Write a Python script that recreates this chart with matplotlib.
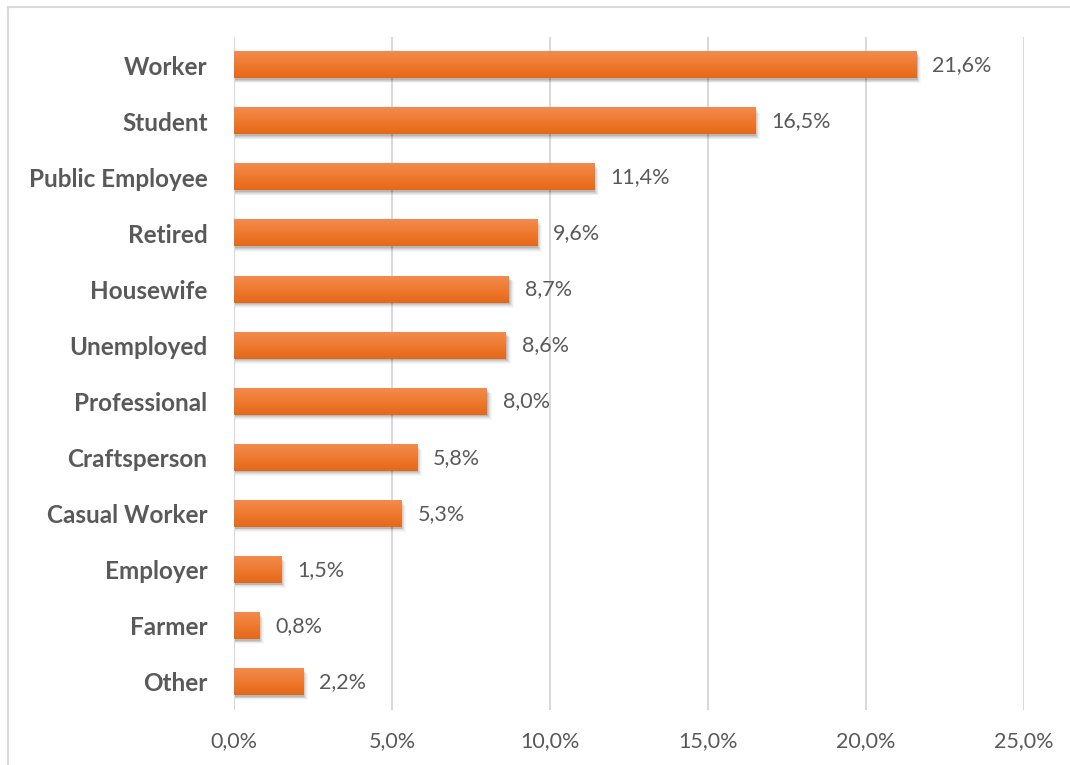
import matplotlib
matplotlib.use("Agg")
import matplotlib.pyplot as plt
import numpy as np
from matplotlib.patches import Rectangle
from matplotlib.colors import LinearSegmentedColormap
from matplotlib.lines import Line2D

categories = ["Worker", "Student", "Public Employee", "Retired", "Housewife",
              "Unemployed", "Professional", "Craftsperson", "Casual Worker",
              "Employer", "Farmer", "Other"]
values = [21.6, 16.5, 11.4, 9.6, 8.7, 8.6, 8.0, 5.8, 5.3, 1.5, 0.8, 2.2]
x_ticks = [0, 5, 10, 15, 20, 25]

plt.rcParams["font.family"] = ["Lato", "DejaVu Sans"]
text_color = "#595959"

fig = plt.figure(figsize=(10.7, 7.65), dpi=100)
ax = fig.add_axes([0.2187, 0.0719, 0.7383, 0.8797])

n = len(categories)
ypos = np.arange(n)
bar_h = 0.47

grad = LinearSegmentedColormap.from_list("bar", ["#F38B4E", "#EE7A2F", "#E56818"])
gimg = np.linspace(0, 1, 64).reshape(-1, 1)

for y, v in zip(ypos, values):
    # soft drop shadow below/right of each bar
    for k, a in zip(range(5), [0.10, 0.08, 0.06, 0.04, 0.03]):
        off_x = 0.03 + 0.03 * k
        off_y = 0.03 + 0.015 * k
        ax.add_patch(Rectangle((0.02, y - bar_h / 2 + off_y), v + off_x - 0.02, bar_h,
                               facecolor="#000000", alpha=a, edgecolor="none", zorder=2))
    ax.imshow(gimg, cmap=grad, aspect="auto",
              extent=(0, v, y + bar_h / 2, y - bar_h / 2), zorder=3, interpolation="bilinear")
    ax.text(v + 0.5, y, f"{v:.1f}%".replace(".", ","), va="center", ha="left",
            fontsize=15.5, color=text_color)

ax.set_xlim(0, 25)
ax.set_ylim(n - 0.5, -0.5)

ax.set_yticks(ypos)
ax.set_yticklabels(categories, fontsize=17.5, fontweight="bold", color=text_color)
ax.set_xticks(x_ticks)
ax.set_xticklabels([f"{t:.1f}%".replace(".", ",") for t in x_ticks], fontsize=15.5,
                   color=text_color)
ax.tick_params(axis="both", length=0)
ax.tick_params(axis="y", pad=19)
ax.tick_params(axis="x", pad=15)

ax.grid(axis="x", color="#D9D9D9", linewidth=1.5, zorder=0)
ax.set_axisbelow(True)
for s in ax.spines.values():
    s.set_visible(False)

# outer chart border (top and left edges)
fig.add_artist(Line2D([8 / 1070, 1.0], [1 - 7 / 765, 1 - 7 / 765], transform=fig.transFigure,
                      color="#D9D9D9", linewidth=1.5))
fig.add_artist(Line2D([8 / 1070, 8 / 1070], [1 - 7 / 765, 0.0], transform=fig.transFigure,
                      color="#D9D9D9", linewidth=1.5))

fig.savefig("out.png", dpi=100, facecolor="white")
